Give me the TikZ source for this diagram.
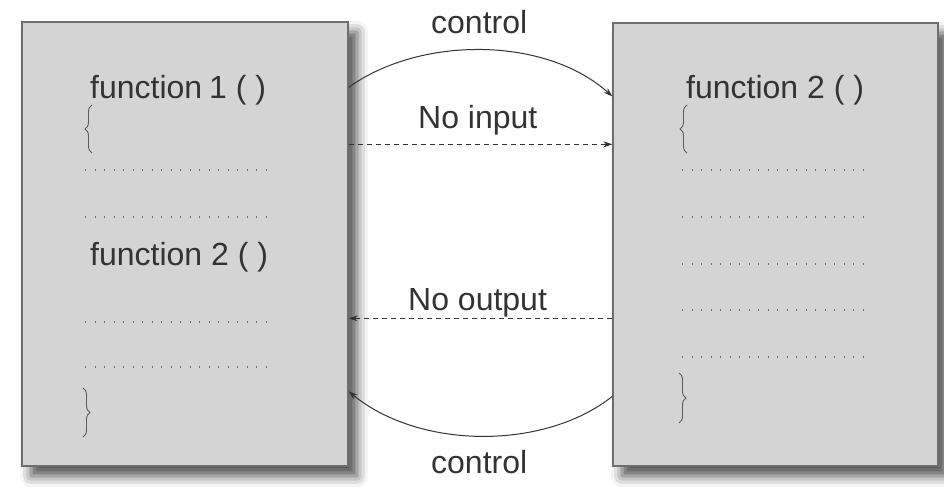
\documentclass[tikz,border=0pt]{standalone}
\usepackage{fontspec}
\setmainfont{Liberation Sans}
\usetikzlibrary{shadows.blur,arrows.meta,decorations.pathreplacing}
\definecolor{boxfill}{HTML}{D4D4D4}
\definecolor{boxline}{HTML}{6E6E6E}
\definecolor{ink}{HTML}{333333}
\definecolor{dotc}{HTML}{6E6E6E}
\tikzset{
  fbox/.style={draw=boxline, line width=1.3pt, fill=boxfill, rectangle, inner sep=0pt,
    blur shadow={shadow xshift=9pt, shadow yshift=-10pt, shadow blur radius=11pt, shadow opacity=70}},
  lbl/.style={font=\fontsize{32}{36}\selectfont, text=ink, inner sep=0pt, anchor=base west},
  dotline/.style={draw=dotc, line width=1.3pt, dash pattern=on 1.3pt off 8.2pt},
  bracepath/.style={draw=ink!80, line width=0.9pt, decorate, decoration={brace, amplitude=7pt}},
  ctl/.style={draw=ink, line width=1pt, -{Stealth[length=9pt,width=6pt]}},
  dsh/.style={draw=ink, line width=1pt, dash pattern=on 5pt off 4pt, -{Stealth[length=9pt,width=6pt]}},
}
\begin{document}
\begin{tikzpicture}[x=1pt,y=-1pt]
\useasboundingbox (0,0) rectangle (944,495);
\node[fbox, minimum width=326pt, minimum height=444pt] (L) at (185,244) {};
\node[fbox, minimum width=325pt, minimum height=443pt] (R) at (775.5,244.5) {};
% left box content
\node[lbl] (lf1) at (90,98) {function\kern-2pt{} 1 ( )};
\draw[bracepath] (92,153) -- (92,105);
\draw[dotline] (85,170) -- (268,170);
\draw[dotline] (85,217) -- (268,217);
\node[lbl] (lf2) at (90,265) {function 2 ( )};
\draw[dotline] (85,322) -- (268,322);
\draw[dotline] (85,367) -- (268,367);
\draw[bracepath] (83,388) -- (83,437);
% right box content
\node[lbl] (rf2) at (686,98) {function 2 ( )};
\draw[bracepath] (687,153) -- (687,105);
\draw[dotline] (682,170) -- (865,170);
\draw[dotline] (682,217) -- (865,217);
\draw[dotline] (682,264) -- (865,264);
\draw[dotline] (682,310) -- (865,310);
\draw[dotline] (682,357) -- (865,357);
\draw[bracepath] (679,373) -- (679,423);
% connectors
\draw[ctl] ([yshift=-66pt]L.north east) .. controls (420,36) and (545,36) .. ([yshift=-74pt]R.north west);
\draw[dsh] ([yshift=-123pt]L.north east) -- ([yshift=-122pt]R.north west);
\draw[dsh] ([yshift=-296pt]R.north west) -- ([yshift=-297pt]L.north east);
\draw[ctl] ([yshift=-374pt]R.north west) .. controls (545,450) and (420,450) .. ([yshift=-370pt]L.north east);
% labels
\node[lbl] (c1) at (431,34) {control};
\node[lbl] (ni) at (418,128) {No input};
\node[lbl] (no) at (408,310) {No output};
\node[lbl] (c2) at (431,473) {control};
\end{tikzpicture}
\end{document}
